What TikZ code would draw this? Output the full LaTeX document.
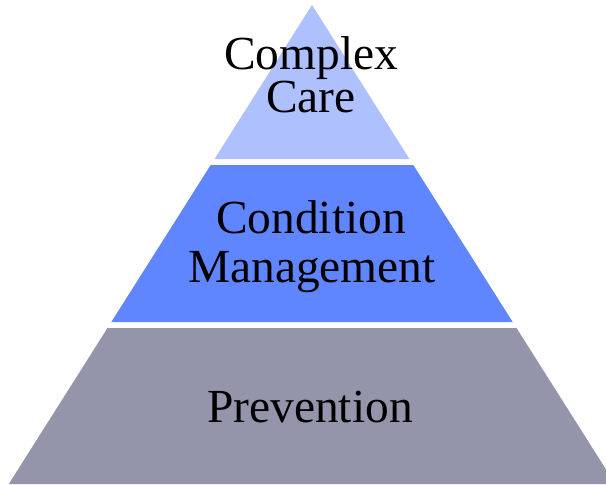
\documentclass[tikz,border=0pt]{standalone}
\usepackage{fontspec}
\setmainfont{Liberation Serif}

\definecolor{careblue}{RGB}{175,192,255}
\definecolor{managementblue}{RGB}{96,134,255}
\definecolor{preventiongray}{RGB}{148,149,170}

\begin{document}
\begin{tikzpicture}[x=0.2mm, y=-0.2mm,
	tier text/.style={anchor=base, align=center, inner sep=0pt, font=\fontsize{27}{24.5}\selectfont}]
	\useasboundingbox (0,0) rectangle (606,484);
	\clip (0,0) rectangle (606,484);

	% Complex care (tip)
	\fill[careblue] (312,5) -- (409.5,159) -- (214.5,159) -- cycle;
	\node[tier text] (complex) at (311,69) {Complex};
	\node[tier text] (care) at (311,112) {Care};

	% Condition management
	\fill[managementblue] (210.7,165) -- (413.3,165) -- (512.7,322) -- (111.3,322) -- cycle;
	\node[tier text] (condition) at (311,233) {Condition};
	\node[tier text] (management) at (312,282) {Management};

	% Prevention (base)
	\fill[preventiongray] (107.5,328) -- (516.5,328) -- (615.2,484) -- (8.8,484) -- cycle;
	\node[tier text] (prevention) at (310,422) {Prevention};
\end{tikzpicture}
\end{document}
